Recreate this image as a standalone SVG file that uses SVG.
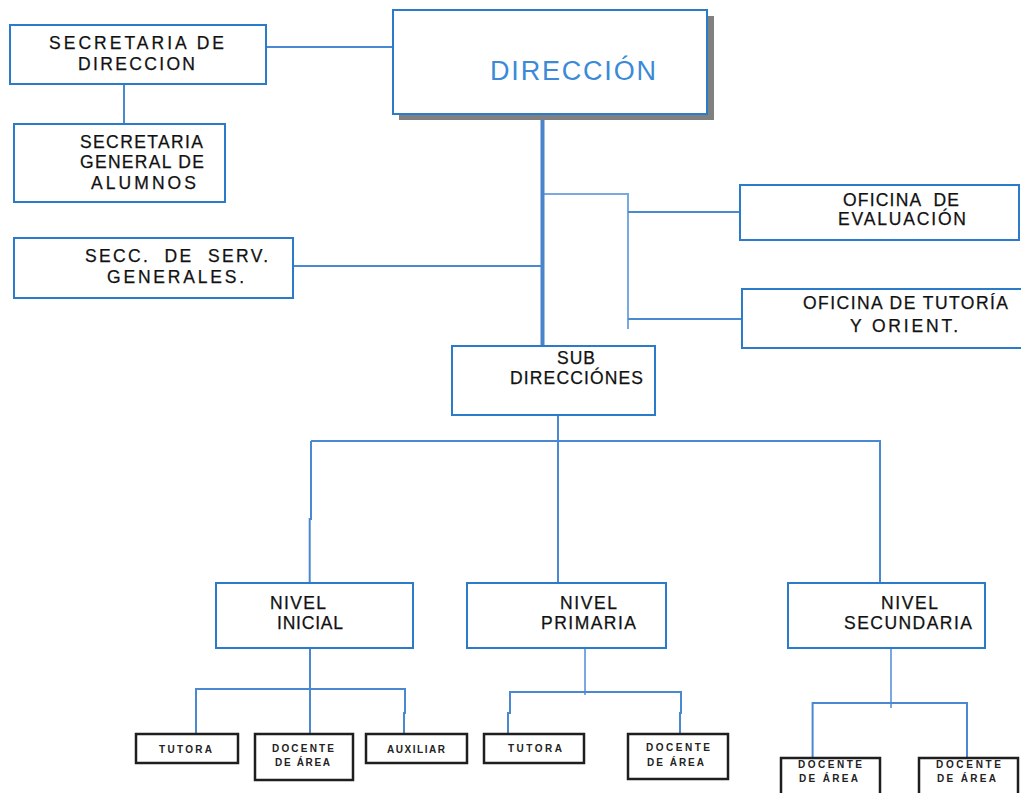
<svg xmlns="http://www.w3.org/2000/svg" width="1021" height="793" viewBox="0 0 1021 793">
<style>
.box{fill:#fff;stroke:#2a7cca;stroke-width:2}
.sbox{fill:#fff;stroke:#1e1e1e;stroke-width:2.5}
.t{font-family:"Liberation Sans",Arial,sans-serif;font-size:17.5px;fill:#111;stroke:#111;stroke-width:0.25}
.s{font-family:"Liberation Sans",Arial,sans-serif;font-size:10px;font-weight:bold;fill:#222}
.c{fill:none;stroke:#4a88d2;stroke-width:2}
.cl{fill:none;stroke:#7aa8e0;stroke-width:2}
</style>
<rect width="1021" height="793" fill="#fff"/>
<g id="connectors">
<path class="c" d="M266 47H392"/>
<path class="c" d="M124 82V124"/>
<path class="c" d="M293 266H542"/>
<path class="cl" d="M542 194H628V329"/>
<path class="c" d="M628 212H740"/>
<path class="c" d="M628 319H745"/>
<path fill="none" stroke="#4a84cc" stroke-width="4" d="M542.5 104V366"/>
<path class="c" d="M558 409V583"/>
<path class="c" d="M311 441H880V583"/>
<path class="c" d="M311 441V519H309.7V583"/>
<path class="c" d="M310 648V734"/>
<path class="c" d="M196 734V689H405V713H404V734"/>
<path class="cl" d="M585 643V695"/>
<path class="c" d="M508 734V713H510V692H681V713H680V734"/>
<path class="cl" d="M891 643V708"/>
<path class="c" d="M812.6 758V703H967V758"/>
</g>
<g id="secretaria-direccion">
<rect class="box" x="10" y="25" width="256" height="59"/>
<text class="t" x="49" y="49" textLength="175">SECRETARIA DE</text>
<text class="t" x="78" y="70" textLength="117">DIRECCION</text>
</g>
<g id="secretaria-general">
<rect class="box" x="14" y="124" width="211" height="78"/>
<text class="t" x="80" y="148" textLength="123">SECRETARIA</text>
<text class="t" x="80" y="168" textLength="124">GENERAL DE</text>
<text class="t" x="91" y="189" textLength="105">ALUMNOS</text>
</g>
<g id="direccion">
<rect x="399" y="16" width="315" height="104" fill="#808080"/>
<rect class="box" x="393" y="10" width="314" height="104"/>
<text x="490" y="80" textLength="166" style="font-family:'Liberation Sans',Arial,sans-serif;font-size:27px;fill:#3a8ad8">DIRECCIÓN</text>
</g>
<g id="secc-serv-generales">
<rect class="box" x="14" y="238" width="279" height="60"/>
<text class="t" x="85" y="262" textLength="183" xml:space="preserve">SECC.  DE  SERV.</text>
<text class="t" x="107" y="283" textLength="137">GENERALES.</text>
</g>
<g id="oficina-evaluacion">
<rect class="box" x="740" y="185" width="279" height="55"/>
<text class="t" x="843" y="206" textLength="116" xml:space="preserve">OFICINA  DE</text>
<text class="t" x="838" y="225" textLength="128">EVALUACIÓN</text>
</g>
<g id="oficina-tutoria">
<rect class="box" x="742" y="289" width="281" height="59"/>
<text class="t" x="803" y="309" textLength="205">OFICINA DE TUTORÍA</text>
<text class="t" x="850" y="332" textLength="108">Y ORIENT.</text>
</g>
<g id="sub-direcciones">
<rect class="box" x="452" y="346" width="203" height="69"/>
<text class="t" x="557" y="364" textLength="38">SUB</text>
<text class="t" x="510" y="384" textLength="133">DIRECCIÓNES</text>
</g>
<g id="nivel-inicial">
<rect class="box" x="216" y="583" width="197" height="65"/>
<text class="t" x="270" y="609" textLength="56">NIVEL</text>
<text class="t" x="277" y="629" textLength="66">INICIAL</text>
</g>
<g id="nivel-primaria">
<rect class="box" x="467" y="583" width="199" height="65"/>
<text class="t" x="560" y="609" textLength="57">NIVEL</text>
<text class="t" x="541" y="629" textLength="95">PRIMARIA</text>
</g>
<g id="nivel-secundaria">
<rect class="box" x="788" y="583" width="197" height="65"/>
<text class="t" x="881" y="609" textLength="57">NIVEL</text>
<text class="t" x="844" y="629" textLength="128">SECUNDARIA</text>
</g>
<g id="inicial-tutora">
<rect class="sbox" x="136" y="734" width="102" height="29"/>
<text class="s" x="159" y="753" textLength="53">TUTORA</text>
</g>
<g id="inicial-docente">
<rect class="sbox" x="255" y="734" width="98" height="46"/>
<text class="s" x="272" y="752" textLength="62">DOCENTE</text>
<text class="s" x="275" y="766" textLength="55">DE ÁREA</text>
</g>
<g id="inicial-auxiliar">
<rect class="sbox" x="366" y="734" width="101" height="29"/>
<text class="s" x="387" y="753" textLength="58">AUXILIAR</text>
</g>
<g id="primaria-tutora">
<rect class="sbox" x="484" y="734" width="100" height="29"/>
<text class="s" x="508" y="752" textLength="54">TUTORA</text>
</g>
<g id="primaria-docente">
<rect class="sbox" x="628" y="734" width="100" height="45"/>
<text class="s" x="646" y="751" textLength="64">DOCENTE</text>
<text class="s" x="647" y="766" textLength="57">DE ÁREA</text>
</g>
<g id="secundaria-docente-1">
<rect class="sbox" x="781" y="758" width="99" height="45"/>
<text class="s" x="798" y="768" textLength="64">DOCENTE</text>
<text class="s" x="799" y="782" textLength="59">DE ÁREA</text>
</g>
<g id="secundaria-docente-2">
<rect class="sbox" x="919" y="758" width="99" height="45"/>
<text class="s" x="936" y="768" textLength="65">DOCENTE</text>
<text class="s" x="937" y="782" textLength="59">DE ÁREA</text>
</g>
</svg>
